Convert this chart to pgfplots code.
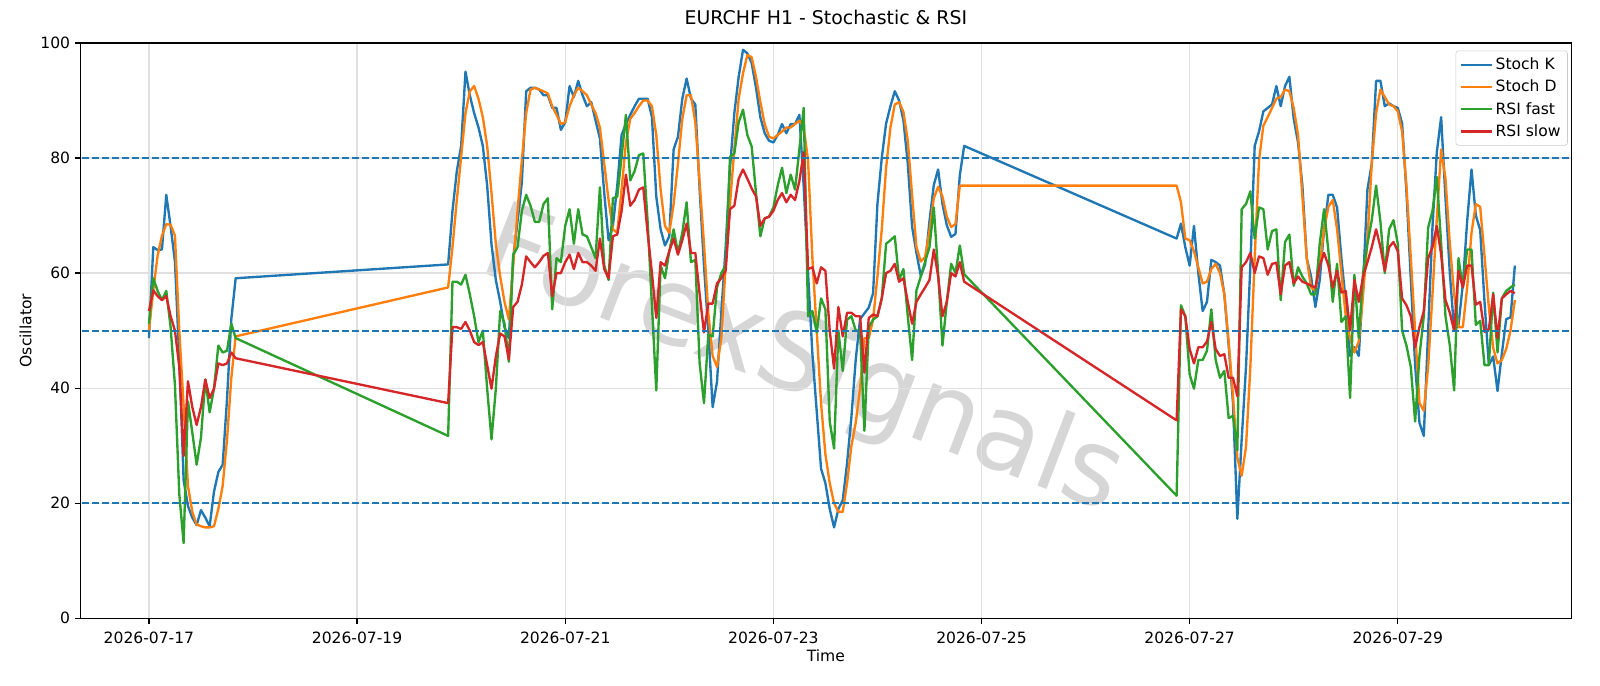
\documentclass[border=0pt]{standalone}
\usepackage{fontspec}
\setmainfont{DejaVu Sans}
\usepackage{pgfplots}
\pgfplotsset{compat=1.18}
\usepackage{pgfplotstable}
\definecolor{tabblue}{HTML}{1F77B4}
\definecolor{taborange}{HTML}{FF7F0E}
\definecolor{tabgreen}{HTML}{2CA02C}
\definecolor{tabred}{HTML}{D62728}

% h = hours since 2026-07-17 00:00
\pgfplotstableread{
h K D F S
0 48.7 50 51.2 53.4
1 64.5 57 59.1 57
2 64 63 56.9 56
3 64.1 66.5 55.3 55.3
4 73.6 68.5 56.9 56
5 68.1 68.4 50.6 52.5
6 62 66.5 40.5 50
7 45 50 21.6 43.7
8 24 37 13.1 28.2
9 19.5 23 37.7 41.2
10 17.5 18.5 32.3 36.7
11 16.2 16.3 26.7 33.6
12 18.8 16 31.4 36.7
13 17.5 15.8 41.5 41.5
14 16 15.8 35.8 38.3
15 22 16 39.9 39.9
16 25.4 19 47.4 44.3
17 26.7 23 46.2 44
18 38 31 46.5 44.3
19 52 41.8 51.2 46.2
20 59.1 49 48.7 45.2
69 61.5 57.5 31.7 37.4
70 70.8 64.5 58.5 50.6
71 77.7 72.7 58.5 50.6
72 82.1 80.2 58 50.3
73 95 87.8 59.7 51.5
74 90.9 91.6 56.3 50
75 87.8 92.5 52.5 48
76 85.3 90.3 48 47.5
77 82.1 87.1 50 48
78 75.2 82.1 39.9 44
79 65 73.9 31.1 39.9
80 58.8 65.1 39.9 45.5
81 55 59.4 53.4 49.5
82 50.6 55 51.2 49
83 48.7 51.9 44.6 45
84 62.6 61.3 63.2 54.1
85 68.9 70.8 64.5 55
86 75.8 79.6 70.8 58
87 91.6 87.8 73.6 62.9
88 92.2 91.9 71.7 61.9
89 92.2 92.2 68.9 61
90 91.9 91.9 68.9 61.9
91 90.9 91.6 72 63
92 90.9 91.2 73 63.5
93 88.7 89 53.7 56
94 88.7 87.5 62.6 60
95 84.9 85.9 61.9 60
96 86.2 86.2 68.2 61.9
97 92.5 89 71.1 63.2
98 90.6 90.9 65.1 60.7
99 93.4 92.2 71.1 63.5
100 90.9 91.6 66.7 61.9
101 89 90.9 66.4 61.9
102 89.7 89.3 64.5 61.3
103 86.5 87.8 62.6 60.4
104 83.4 85.3 74.9 66
105 73.9 79 61.3 60.7
106 65.7 72.7 58.8 59.1
107 68.2 67.6 73 66.4
108 75.2 67 73.3 66.7
109 84 74.5 80.2 70.8
110 85.9 82.7 87.5 77.1
111 87.5 86.8 76.1 71.7
112 89 87.8 77.7 72.7
113 90.3 89 80.5 74.5
114 90.3 90 80.8 74.9
115 90.3 90 69 67
116 87.1 89 54.4 60
117 73.3 84 39.6 52.2
118 67.6 74.5 61.3 61.9
119 64.8 68.2 59.1 61.3
120 66.4 67 63.8 63.8
121 81.5 72 67.6 66
122 83.7 79 63.5 63.2
123 90.3 86.8 67 65.7
124 93.8 90.9 72.3 68.6
125 90.3 90.9 61.9 63.5
126 89.3 86.2 62.3 63.5
127 74.5 75.8 44.3 56.3
128 61.3 65.1 37.4 49.7
129 50 53.1 49.3 54.7
130 36.7 45.6 49 54.7
131 41.1 43.7 57.5 58.2
132 53.1 48.7 60 59.1
133 64.5 61.3 61.3 60.4
134 78.3 72 80.2 71.1
135 87.8 81.5 80.8 71.7
136 94.1 90.3 86.2 76.4
137 98.8 94.7 88.4 78
138 98.2 97.9 84 76.4
139 96.5 97.5 82 74.7
140 92.2 94.1 73.9 73.3
141 87.1 89.7 66.4 68.2
142 84.3 85.9 69.5 69.5
143 83 83.7 69.8 69.8
144 82.7 83.4 71.4 70.8
145 84 84 75.2 72.7
146 85.9 84.6 78.3 73.9
147 84.3 85.3 73.9 72.3
148 85.9 85.3 77.1 73.6
149 85.9 85.9 74.5 72.7
150 87.5 86.5 81.5 76
151 75 85.3 88.7 81
152 60 79.6 52.5 60.7
153 46 62.6 53.4 61
154 36 50 49.7 58.2
155 26 37.4 55.6 61
156 23.5 28.5 53.7 60.4
157 19 23.5 34.2 50
158 15.8 20 29.5 43.4
159 19 18.5 50 54.1
160 20.5 18.5 43 49
161 27 23.5 51.9 53.1
162 35 30 52.5 53.1
163 45 34 50 52.5
164 52 40 50 52.5
165 53 48.7 32.6 42.7
166 54 48.7 50.6 52.2
167 56.5 51.9 51.9 52.8
168 72 59.4 52.5 52.5
169 80 67.6 55.6 55.6
170 86 78.3 65.1 60
171 89 85.3 65.7 60.4
172 91.6 89.3 66.4 61.6
173 90 89.7 58.8 58.5
174 86.5 88 60.7 59.1
175 79 83 52.5 55
176 68 73.5 44.9 51.2
177 63.5 64.5 57 55
178 59.5 62 59.4 56.3
179 61.5 62.8 62 57.5
180 69 67.3 64.5 58.8
181 75.3 73 71.4 64.1
182 78 75 60 59.4
183 72 73.3 47.4 52.5
184 68.3 69.8 55 55
185 66.3 68 61.6 60
186 66.8 68.5 60 59.4
187 77 75.2 64.8 61.9
188 82.1 75.2 59.8 58.5
237 66 75.2 21.3 34.4
238 68.6 72.3 54.4 53.7
239 64.5 66 52.5 52.5
240 61.3 65.7 42.4 46.8
241 68.2 63.8 39.9 44.3
242 60 61 44.9 47.1
243 53.4 58.2 44.9 47.1
244 55 58.5 46.5 48.1
245 62.3 60.7 53.7 51.5
246 61.9 61.6 44.9 46.8
247 61.3 60 41.8 45.6
248 56.3 56.3 43 45.9
249 47.4 48.1 34.8 41.8
250 37.4 38.6 35.2 41.8
251 17.3 27.9 29.2 38.6
252 31.1 24.8 71.1 61
253 43.7 29.8 72 61.9
254 61.3 43.7 74.2 63.5
255 82.1 62.6 66 60
256 84.6 79.6 71.4 62.9
257 88.1 85.6 71.1 62.6
258 88.7 87.1 64.1 59.7
259 89.3 88.7 67.3 61.6
260 92.5 90.3 67.6 61.8
261 89 90.6 55.3 56.3
262 92.5 91.9 65.4 61.3
263 94.1 91.6 66.7 61.9
264 86.8 88.7 57.8 58.2
265 82.7 84 61 59.4
266 75.2 73.3 59.4 58.5
267 62.6 62.6 58.2 58.2
268 59.4 57.5 56.3 57.8
269 54.1 56.9 56.3 57.5
270 58.8 61.3 65.1 61.3
271 67.6 67.6 71.1 63.5
272 73.6 71.5 63.8 61.3
273 73.6 72.7 55 57.5
274 71.4 67.6 61.6 60.4
275 62.6 60 51.5 56.6
276 55 52.5 52.5 56.9
277 45.6 48.7 38.3 50
278 47.1 46.2 59.7 58.8
279 45.6 48.1 48.7 55
280 58.2 56.3 60 59.4
281 74.5 65.7 65.1 61.9
282 79 79 69.2 64.5
283 93.4 87.8 75.2 67.6
284 93.4 91.9 68.9 64.5
285 89 90.6 60 60.4
286 89.5 89.3 67.6 64.5
287 89 89 69.2 65.4
288 88.7 88.1 65.1 63.8
289 86 84.6 50 55.6
290 74 75.2 47.4 54.4
291 59 62.6 43.7 52.5
292 44 50 34.2 47.1
293 34 37.4 45.6 50.6
294 31.7 36.1 52.5 53.4
295 50 43.7 67.9 62.6
296 68 56.3 70.8 64.5
297 81 69.5 76.7 68.2
298 87.1 81.5 65.1 63.2
299 73 76.4 52.5 55.3
300 60 65.1 47.4 53.1
301 50 56.3 39.6 50
302 51 50.6 62.6 60.4
303 58 50.6 57.5 57.5
304 69 57.5 64.1 61.3
305 78 67 64.1 61.3
306 70 72 51 54.5
307 67.5 71.5 51.7 55
308 55 63 44 49.8
309 44 54 44 50.2
310 45.5 47 56.6 56.3
311 39.5 44.3 46.2 48.7
312 46 44.9 55.6 55.6
313 52 46.8 56.9 56.3
314 52.3 50 57.5 56.9
315 61.3 55.3 58 56.5
}\datatable

\begin{document}
\begin{tikzpicture}
\useasboundingbox (-58pt,-48.7pt) rectangle (1094pt,445.2pt);
\node[rotate=-21, text=black!16, font=\fontsize{77}{77}\selectfont] at (520pt,183pt) {ForexSignals};
\begin{axis}[
  at={(0,0)}, anchor=south west,
  width=1073.3pt, height=414.3pt, scale only axis,
  xmin=-15.77, xmax=328, ymin=0, ymax=100,
  xtick={0,48,96,144,192,240,288},
  xticklabels={2026-07-17,2026-07-19,2026-07-21,2026-07-23,2026-07-25,2026-07-27,2026-07-29},
  ytick={0,20,40,60,80,100},
  tick pos=left, tick align=outside, major tick length=4pt,
  tick style={black, line width=0.9pt},
  grid=major, grid style={black!12, line width=0.9pt},
  axis line style={line width=0.9pt},
  ticklabel style={font=\fontsize{11.2}{13}\selectfont},
  xticklabel style={yshift=-2.5pt},
  /pgf/number format/assume math mode=true,
  xlabel={Time}, ylabel={Oscillator},
  label style={font=\fontsize{11.2}{13}\selectfont},
  x label style={at={(axis description cs:0.5,-0.0654)}, anchor=center},
  y label style={at={(axis description cs:-0.0369,0.5)}, anchor=center},
  title={EURCHF H1 - Stochastic \& RSI},
  title style={font=\fontsize{13.6}{16}\selectfont, at={(axis description cs:0.5,1.0302)}, anchor=center, yshift=0pt},
  legend style={at={(1,1)}, anchor=north east, xshift=-2.5pt, yshift=-5.5pt,
    draw=black!20, rounded corners=2pt, fill=white, fill opacity=0.8, text opacity=1,
    font=\fontsize{11.2}{13}\selectfont, row sep=2pt, inner xsep=3pt, inner ysep=3pt},
  legend cell align=left,
  legend image code/.code={\draw[#1] (0pt,0pt) -- (22pt,0pt);},
  every axis plot/.append style={line width=1.7pt, line join=round},
]
\addplot[tabblue] table[x=h,y=K] {\datatable};
\addlegendentry{Stoch K}
\addplot[taborange] table[x=h,y=D] {\datatable};
\addlegendentry{Stoch D}
\addplot[tabgreen] table[x=h,y=F] {\datatable};
\addlegendentry{RSI fast}
\addplot[tabred] table[x=h,y=S] {\datatable};
\addlegendentry{RSI slow}
\addplot[tabblue, line width=1.3pt, dash pattern=on 5pt off 2.2pt, forget plot] coordinates {(-20,80) (340,80)};
\addplot[tabblue, line width=1.3pt, dash pattern=on 5pt off 2.2pt, forget plot] coordinates {(-20,50) (340,50)};
\addplot[tabblue, line width=1.3pt, dash pattern=on 5pt off 2.2pt, forget plot] coordinates {(-20,20) (340,20)};
\end{axis}
\end{tikzpicture}
\end{document}
